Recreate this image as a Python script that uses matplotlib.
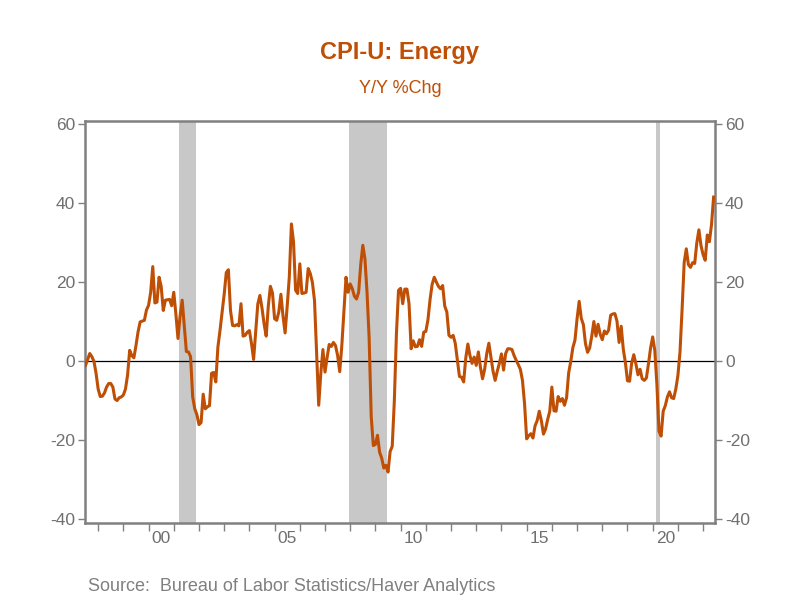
import numpy as np
import pandas as pd
import matplotlib
matplotlib.use('Agg')
import matplotlib.pyplot as plt

plt.rcParams['font.family'] = ['Liberation Sans', 'DejaVu Sans']

# CPI-U energy, y/y % change, monthly Jul 1997 - Jun 2022
start = '1997-07'
energy_yoy = [
    -1.0, 0.5, 2.0, 1.2, 0.0, -3.0,                                        # 1997 H2
    -7.0, -8.9, -8.8, -8.0, -6.5, -5.6, -5.6, -6.5, -9.5, -9.9, -9.2, -9.0,  # 1998
    -8.5, -7.0, -3.5, 2.8, 1.5, 0.9, 4.0, 7.5, 10.0, 10.2, 10.4, 13.0,       # 1999
    14.2, 17.5, 24.0, 14.8, 15.0, 21.3, 19.0, 12.9, 15.5, 15.6, 15.7, 14.1,  # 2000
    17.5, 12.0, 5.8, 11.5, 15.5, 9.0, 2.5, 2.4, 1.2, -9.0, -12.0, -13.5,     # 2001
    -16.0, -15.5, -8.3, -12.0, -11.5, -11.2, -3.0, -2.8, -5.2, 3.6, 7.8, 12.5,  # 2002
    17.0, 22.5, 23.2, 12.9, 9.1, 9.0, 9.3, 9.0, 14.6, 6.4, 6.6, 7.4,         # 2003
    7.8, 4.5, 0.5, 7.5, 14.5, 16.7, 13.5, 9.5, 6.4, 14.0, 19.0, 17.3,        # 2004
    10.8, 10.4, 12.5, 17.0, 11.5, 7.2, 14.0, 21.3, 34.8, 30.3, 18.0, 17.2,   # 2005
    24.7, 17.2, 17.3, 17.5, 23.5, 22.2, 20.0, 15.4, 1.9, -11.1, -3.0, 3.0,   # 2006
    -2.7, 1.0, 4.3, 3.8, 4.8, 4.0, 1.5, -2.6, 4.0, 12.5, 21.3, 17.5,         # 2007
    19.6, 18.4, 16.5, 15.8, 17.5, 24.5, 29.4, 26.0, 17.5, 6.0, -14.0, -21.3, # 2008
    -21.0, -18.7, -23.0, -24.5, -27.0, -26.3, -28.0, -22.8, -21.5, -10.0, 7.0, 18.0,  # 2009
    18.5, 14.6, 18.3, 18.3, 14.6, 3.2, 5.2, 3.7, 3.8, 5.5, 3.8, 7.4,         # 2010
    7.6, 10.5, 15.6, 19.5, 21.3, 20.1, 19.0, 18.4, 19.2, 14.0, 12.5, 6.6,    # 2011
    6.1, 6.6, 4.6, 0.5, -3.8, -4.0, -5.2, 0.8, 4.4, 1.5, -0.5, 1.1,          # 2012
    -1.0, 2.4, -1.5, -4.4, -2.0, 2.0, 4.6, 1.0, -2.5, -4.8, -2.5, -0.5,      # 2013
    1.9, -2.2, 2.0, 3.2, 3.2, 3.0, 1.5, 0.3, -0.8, -2.0, -4.8, -10.7,        # 2014
    -19.6, -18.8, -18.3, -19.4, -16.3, -15.0, -12.6, -15.0, -18.4, -17.1, -14.7, -12.6,  # 2015
    -6.5, -12.5, -12.6, -8.9, -10.1, -9.4, -11.1, -9.2, -2.9, 0.0, 3.5, 5.4, # 2016
    10.8, 15.2, 10.9, 9.3, 4.5, 2.3, 3.4, 6.4, 10.1, 6.4, 9.4, 6.9,          # 2017
    5.5, 7.7, 7.0, 7.9, 11.7, 12.0, 12.1, 10.2, 4.8, 8.9, 3.1, -0.3,         # 2018
    -4.9, -5.0, -0.4, 1.7, -0.6, -3.4, -2.0, -4.4, -4.8, -4.2, -0.6, 3.4,    # 2019
    6.2, 2.8, -5.7, -17.7, -18.9, -12.6, -11.2, -9.0, -7.7, -9.2, -9.4, -7.0,  # 2020
    -3.6, 2.4, 13.2, 25.1, 28.5, 24.5, 23.8, 25.0, 24.8, 30.0, 33.3, 29.3,   # 2021
    27.0, 25.6, 32.0, 30.3, 34.6, 41.6,                                      # 2022 H1
]

# NBER recessions (first month, last month)
recessions = [('2001-03', '2001-11'), ('2007-12', '2009-06'), ('2020-02', '2020-04')]

yticks = [-40, -20, 0, 20, 40, 60]
label_years = [2000, 2005, 2010, 2015, 2020]

orange = '#C04F06'
gray = '#808080'


def dec_year(d):
    d = pd.Timestamp(d)
    return d.year + (d.month - 1) / 12


dates = pd.date_range(start, periods=len(energy_yoy), freq='MS')
x = np.array([dec_year(d) for d in dates])

fig = plt.figure(figsize=(8, 6), dpi=100)
ax = fig.add_axes([0.106, 0.129, 0.788, 0.669])

for a, b in recessions:
    ax.axvspan(dec_year(a) + 0.5 / 12, dec_year(b) + 0.5 / 12, color='#C8C8C8', lw=0, zorder=0)

ax.axhline(0, color='black', lw=0.9, zorder=1)
ax.plot(x, energy_yoy, color=orange, lw=2.2, zorder=3)

ax.set_xlim(1997.47, 2022.48)
ax.set_ylim(-40.8, 60.8)

ax.set_yticks(yticks)
ax.set_yticklabels([str(v) for v in yticks])
ax.tick_params(axis='y', which='both', left=True, right=True, labelleft=True,
               labelright=True, direction='out', length=5, width=1,
               color=gray, labelcolor='#707070', labelsize=12.5, pad=2)

years = np.arange(1998, 2023)
ax.set_xticks(years)
ax.set_xticklabels([])
ax.set_xticks([y + 0.5 for y in label_years], minor=True)
ax.set_xticklabels(['%02d' % (y % 100) for y in label_years], minor=True)
ax.tick_params(axis='x', which='major', direction='out', length=6, width=1, color=gray)
ax.tick_params(axis='x', which='minor', length=0, labelsize=12.5, labelcolor='#707070', pad=6)

for s in ax.spines.values():
    s.set_color(gray)
    s.set_linewidth(1.8)

fig.text(0.5, 0.912, 'CPI-U: Energy', ha='center', va='center', fontsize=17,
         fontweight='bold', color=orange)
fig.text(0.5, 0.853, 'Y/Y %Chg', ha='center', va='center', fontsize=13, color=orange)
fig.text(0.11, 0.022, 'Source:  Bureau of Labor Statistics/Haver Analytics',
         ha='left', va='center', fontsize=13, color=gray)

fig.savefig('out.png', dpi=100)
